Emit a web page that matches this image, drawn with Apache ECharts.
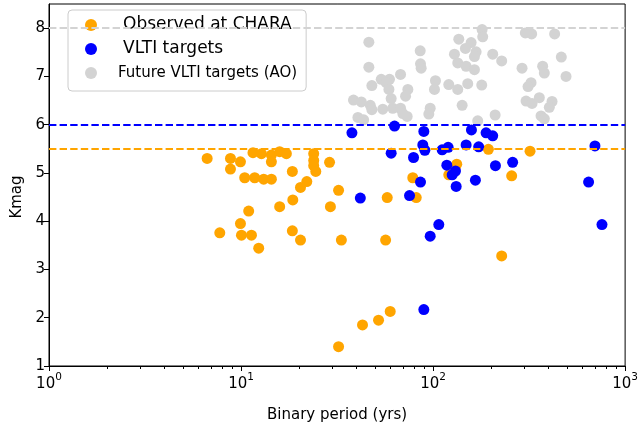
<!DOCTYPE html>
<html>
<head>
<meta charset="utf-8">
<script src="https://cdn.jsdelivr.net/npm/echarts@6/dist/echarts.min.js"></script>
<style>
  html, body { margin: 0; padding: 0; background: #fff; }
  #chart { width: 641px; height: 428px; }
</style>
</head>
<body>
<div id="chart"></div>
<script>
// Binaries already observed at CHARA
const charaPeriod = [6.66, 8.81, 8.81, 9.93, 11.54, 12.77, 14.39, 14.39, 15.89, 17.22,
  10.45, 11.78, 13.12, 14.39, 18.5, 23.9, 23.9, 23.9, 24.5, 28.9,
  22.0, 20.4, 32.2, 18.6, 15.89, 29.2, 10.96, 9.93, 7.75, 10.05,
  11.33, 12.36, 18.5, 20.4, 33.3, 32.2, 56.6, 227.6, 59.8, 52.0,
  42.9, 194.1, 132.8, 120.7, 78.4, 81.7, 57.7, 319.8, 256.6];
const charaKmag = [5.30, 5.30, 5.08, 5.23, 5.42, 5.40, 5.37, 5.23, 5.44, 5.40,
  4.90, 4.90, 4.87, 4.87, 5.03, 5.40, 5.26, 5.15, 5.03, 5.22,
  4.82, 4.70, 4.64, 4.44, 4.30, 4.30, 4.21, 3.95, 3.76, 3.71,
  3.71, 3.44, 3.80, 3.61, 3.61, 1.40, 3.61, 3.28, 2.13, 1.95,
  1.85, 5.49, 5.18, 4.96, 4.90, 4.49, 4.49, 5.45, 4.94];

// VLTI targets
const vltiPeriod = [37.8, 63.0, 89.5, 158.4, 188.8, 204.4, 88.4, 90.6, 60.5, 79.1,
  111.5, 119.8, 148.6, 172.8, 211.2, 117.9, 130.8, 125.7, 166.1, 131.9,
  86.0, 41.8, 75.4, 696.6, 259.6, 645.4, 757.6, 107.1, 96.6, 89.5];
const vltiKmag = [5.83, 5.97, 5.86, 5.89, 5.83, 5.77, 5.58, 5.47, 5.41, 5.32,
  5.48, 5.53, 5.58, 5.54, 5.15, 5.16, 5.04, 4.96, 4.85, 4.72,
  4.81, 4.48, 4.53, 5.56, 5.22, 4.81, 3.93, 3.93, 3.69, 2.17];

// Future VLTI targets once the AO upgrade is available
const futurePeriod = [46.3, 85.7, 46.3, 86.0, 86.7, 136.1, 157.8, 180.0, 181.3, 147.4,
  167.5, 129.2, 164.2, 134.4, 148.6, 164.2, 67.7, 59.3, 53.7, 48.0,
  57.0, 58.9, 73.9, 71.9, 38.5, 42.3, 47.1, 48.0, 54.7, 60.5,
  61.7, 67.7, 69.6, 73.3, 40.6, 43.5, 96.6, 95.0, 102.9, 101.7,
  120.7, 134.4, 151.5, 179.2, 141.7, 170.8, 204.4, 227.7, 302.3, 326.1,
  429.5, 465.3, 290.6, 372.0, 379.6, 492.3, 323.7, 312.3, 304.9, 327.6,
  357.5, 416.3, 403.0, 364.9, 379.6, 210.4];
const futureKmag = [7.71, 7.53, 7.19, 7.26, 7.17, 7.77, 7.70, 7.97, 7.82, 7.58,
  7.51, 7.46, 7.41, 7.28, 7.21, 7.14, 7.04, 6.94, 6.94, 6.81,
  6.87, 6.73, 6.73, 6.59, 6.51, 6.47, 6.40, 6.31, 6.32, 6.54,
  6.34, 6.34, 6.23, 6.17, 6.15, 6.10, 6.34, 6.22, 6.91, 6.73,
  6.83, 6.73, 6.85, 6.82, 6.40, 6.08, 7.46, 7.32, 7.90, 7.88,
  7.88, 7.40, 7.17, 7.21, 7.07, 7.00, 6.87, 6.79, 6.49, 6.44,
  6.56, 6.48, 6.36, 6.18, 6.12, 6.20];

// Magnitude limits drawn as dashed horizontal lines
const limitFuture = 8.0;
const limitVlti = 6.0;
const limitChara = 5.5;

// Axis ticks
const yTicks = [1, 2, 3, 4, 5, 6, 7, 8];

const COL_CHARA = '#FFA500';
const COL_VLTI = '#0000FF';
const COL_FUTURE = '#D3D3D3';
const FONT = 'DejaVu Sans';

function zip(xs, ys) { return xs.map((x, i) => [x, ys[i]]); }

function limitLine(name, value, color) {
  return {
    name: name,
    type: 'line',
    data: [],
    z: 1,
    silent: true,
    markLine: {
      silent: true,
      symbol: ['none', 'none'],
      label: { show: false },
      animation: false,
      lineStyle: { color: color, type: [7.4, 3.2], width: 2, opacity: 1 },
      data: [{ yAxis: value }]
    }
  };
}

const chart = echarts.init(document.getElementById('chart'), null, { renderer: 'canvas' });

chart.setOption({
  animation: false,
  backgroundColor: '#fff',
  textStyle: { fontFamily: FONT },
  grid: {
    left: 49, right: 15, top: 4, bottom: 58,
    show: true, borderColor: '#000', borderWidth: 1, backgroundColor: 'transparent'
  },
  graphic: [
    {
      type: 'text', x: 17, y: 197, rotation: Math.PI / 2, silent: true,
      style: { text: 'Kmag', fontFamily: FONT, fontSize: 15, fill: '#000', align: 'center', verticalAlign: 'middle' }
    }
  ],
  legend: {
    orient: 'vertical',
    left: 68, top: 10,
    padding: [6, 9, 9, 17],
    itemWidth: 12, itemHeight: 12, itemGap: 6,
    icon: 'circle',
    backgroundColor: 'rgba(255,255,255,0.85)',
    borderColor: '#cccccc', borderWidth: 1, borderRadius: 4,
    textStyle: { fontFamily: FONT, fontSize: 17, color: '#000', lineHeight: 18, padding: [0, 0, 0, 21] },
    data: [
      { name: 'Observed at CHARA' },
      { name: 'VLTI targets' },
      { name: 'Future VLTI targets (AO)', textStyle: { fontSize: 15, padding: [0, 0, 0, 16] } }
    ]
  },
  xAxis: {
    type: 'log', logBase: 10, min: 1, max: 1000,
    name: 'Binary period (yrs)', nameLocation: 'middle', nameGap: 42,
    nameTextStyle: { fontFamily: FONT, fontSize: 15, color: '#000' },
    axisLine: { show: true, lineStyle: { color: '#000', width: 1 } },
    axisTick: { show: true, length: 5, lineStyle: { color: '#000' } },
    minorTick: { show: true, splitNumber: 9, length: 3, lineStyle: { color: '#000' } },
    splitLine: { show: false },
    minorSplitLine: { show: false },
    axisLabel: {
      show: true, margin: 6, color: '#000',
      formatter: v => '{b|10}{s|' + Math.round(Math.log10(v)) + '}',
      rich: {
        b: { fontFamily: FONT, fontSize: 15, color: '#000', verticalAlign: 'bottom', lineHeight: 20 },
        s: { fontFamily: FONT, fontSize: 10.5, color: '#000', verticalAlign: 'top', lineHeight: 20, padding: [0, 0, 8, 0] }
      }
    }
  },
  yAxis: {
    type: 'value', min: 1, max: 8.5, interval: 1,
    axisLine: { show: true, lineStyle: { color: '#000', width: 1 } },
    axisTick: { show: true, length: 5, lineStyle: { color: '#000' }, customValues: yTicks },
    splitLine: { show: false },
    axisLabel: { fontFamily: FONT, fontSize: 15, color: '#000', margin: 4, customValues: yTicks }
  },
  series: [
    limitLine('limitFuture', limitFuture, COL_FUTURE),
    limitLine('limitVlti', limitVlti, COL_VLTI),
    limitLine('limitChara', limitChara, COL_CHARA),
    {
      name: 'Future VLTI targets (AO)', type: 'scatter', z: 2,
      symbol: 'circle', symbolSize: 11,
      itemStyle: { color: COL_FUTURE, opacity: 1 },
      data: zip(futurePeriod, futureKmag)
    },
    {
      name: 'Observed at CHARA', type: 'scatter', z: 3,
      symbol: 'circle', symbolSize: 11,
      itemStyle: { color: COL_CHARA, opacity: 1 },
      data: zip(charaPeriod, charaKmag)
    },
    {
      name: 'VLTI targets', type: 'scatter', z: 4,
      symbol: 'circle', symbolSize: 11,
      itemStyle: { color: COL_VLTI, opacity: 1 },
      data: zip(vltiPeriod, vltiKmag)
    }
  ]
});
</script>
</body>
</html>
